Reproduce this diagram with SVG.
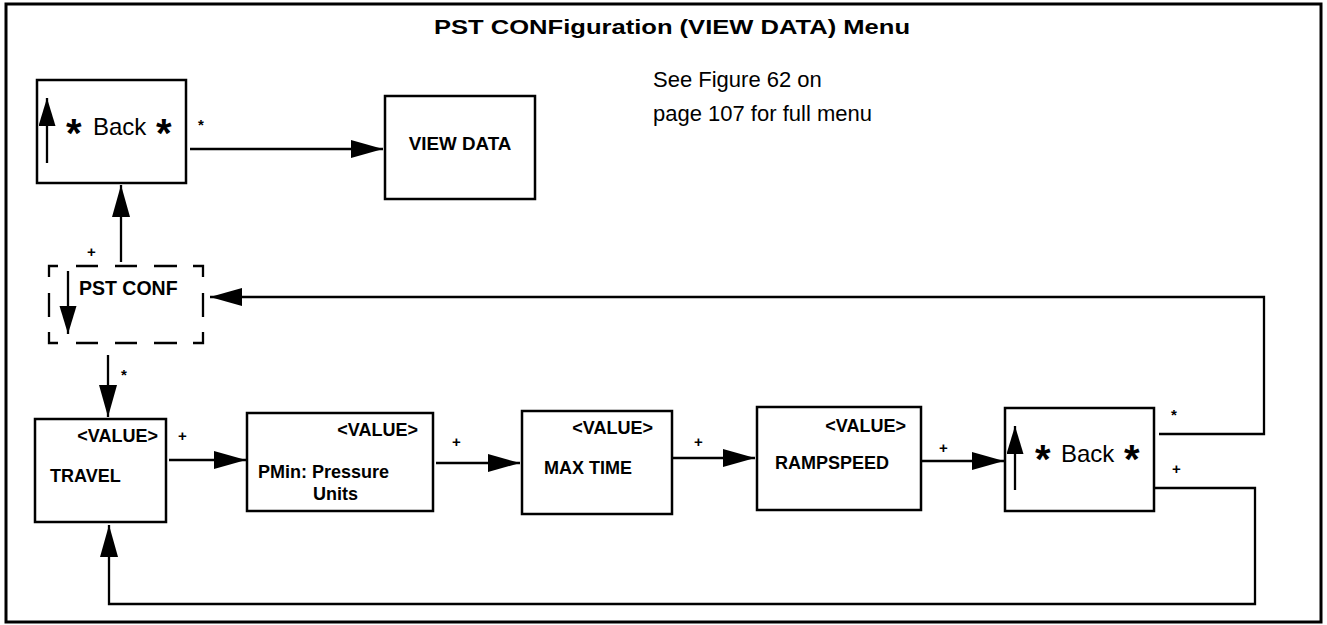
<svg xmlns="http://www.w3.org/2000/svg" width="1327" height="625" viewBox="0 0 1327 625">
<defs>
<style>
.box{fill:#fff;stroke:#000;stroke-width:2.5}
.ln{fill:none;stroke:#000;stroke-width:2.3}
.b{font-family:"Liberation Sans",Arial,sans-serif;font-weight:bold;font-size:18px;fill:#000}
.r{font-family:"Liberation Sans",Arial,sans-serif;font-size:22px;fill:#000}
.bk{font-family:"Liberation Sans",Arial,sans-serif;font-size:24px;fill:#000}
.st{font-family:"Liberation Sans",Arial,sans-serif;font-weight:bold;font-size:40px;fill:#000}
.lb{font-family:"Liberation Sans",Arial,sans-serif;font-weight:bold;font-size:15px;fill:#000}
</style>
<marker id="ah" markerUnits="userSpaceOnUse" markerWidth="32" markerHeight="18" refX="32" refY="9" orient="auto">
<path d="M0,0 L32,9 L0,18 z" fill="#000"/>
</marker>
<marker id="ahs" markerUnits="userSpaceOnUse" markerWidth="28" markerHeight="18" refX="28" refY="8.5" orient="auto">
<path d="M0,0 L28,8.5 L0,17 z" fill="#000"/>
</marker>
</defs>
<rect x="0" y="0" width="1327" height="625" fill="#fff"/>
<rect x="6" y="4" width="1315" height="618" fill="none" stroke="#000" stroke-width="3"/>
<text class="b" x="672" y="34" text-anchor="middle" style="font-size:21px" textLength="476" lengthAdjust="spacingAndGlyphs">PST CONFiguration (VIEW DATA) Menu</text>
<text class="r" x="653" y="87">See Figure 62 on</text>
<text class="r" x="653" y="121">page 107 for full menu</text>

<g id="back1">
<rect class="box" x="37" y="80" width="149" height="103"/>
<line class="ln" x1="47" y1="163" x2="47" y2="98" marker-end="url(#ahs)"/>
<text class="st" x="66" y="147">*</text>
<text class="bk" x="93" y="135">Back</text>
<text class="st" x="156" y="147">*</text>
</g>

<g id="viewdata">
<rect class="box" x="385" y="96" width="150" height="103"/>
<text class="b" x="460" y="150" text-anchor="middle" style="font-size:18.8px">VIEW DATA</text>
</g>

<g id="pstconf">
<path class="ln" d="M49,277 V266 H58 M76,266 H98 M115,266 H137 M154,266 H177 M193,266 H203 V277 M203,293 V317 M203,332 V343 H193 M177,343 H154 M137,343 H115 M98,343 H76 M58,343 H49 V332 M49,317 V293"/>
<line class="ln" x1="68" y1="271" x2="68" y2="334" marker-end="url(#ahs)"/>
<text class="b" x="79" y="295" style="font-size:19.5px">PST CONF</text>
</g>

<g id="travel">
<rect class="box" x="35" y="419" width="131" height="103"/>
<text class="b" x="158" y="442" text-anchor="end">&lt;VALUE&gt;</text>
<text class="b" x="50" y="482">TRAVEL</text>
</g>

<g id="pmin">
<rect class="box" x="247" y="413" width="186" height="98"/>
<text class="b" x="418" y="436" text-anchor="end">&lt;VALUE&gt;</text>
<text class="b" x="258" y="478">PMin: Pressure</text>
<text class="b" x="313" y="500">Units</text>
</g>

<g id="maxtime">
<rect class="box" x="522" y="411" width="150" height="103"/>
<text class="b" x="653" y="434" text-anchor="end">&lt;VALUE&gt;</text>
<text class="b" x="544" y="474">MAX TIME</text>
</g>

<g id="rampspeed">
<rect class="box" x="757" y="407" width="164" height="103"/>
<text class="b" x="906" y="432" text-anchor="end">&lt;VALUE&gt;</text>
<text class="b" x="775" y="469">RAMPSPEED</text>
</g>

<g id="back2">
<rect class="box" x="1005" y="408" width="149" height="103"/>
<line class="ln" x1="1015" y1="490" x2="1015" y2="426" marker-end="url(#ahs)"/>
<text class="st" x="1035" y="473">*</text>
<text class="bk" x="1061" y="462">Back</text>
<text class="st" x="1124" y="473">*</text>
</g>

<g id="connectors">
<line class="ln" x1="190" y1="149" x2="383" y2="149" marker-end="url(#ah)"/>
<line class="ln" x1="121" y1="262" x2="121" y2="185" marker-end="url(#ah)"/>
<line class="ln" x1="108" y1="355" x2="108" y2="417" marker-end="url(#ah)"/>
<line class="ln" x1="169" y1="460" x2="246" y2="460" marker-end="url(#ah)"/>
<line class="ln" x1="436" y1="463" x2="520" y2="463" marker-end="url(#ah)"/>
<line class="ln" x1="672" y1="458" x2="755" y2="458" marker-end="url(#ah)"/>
<line class="ln" x1="922" y1="461" x2="1004" y2="461" marker-end="url(#ah)"/>
<polyline class="ln" points="1159,434 1264,434 1264,297 210,297" marker-end="url(#ah)"/>
<polyline class="ln" points="1154,488 1255,488 1255,604 109,604 109,525" marker-end="url(#ah)"/>
<text class="lb" x="198" y="130">*</text>
<text class="lb" x="87" y="257">+</text>
<text class="lb" x="121" y="380">*</text>
<text class="lb" x="178" y="441">+</text>
<text class="lb" x="452" y="447">+</text>
<text class="lb" x="694" y="447">+</text>
<text class="lb" x="939" y="453">+</text>
<text class="lb" x="1171" y="420">*</text>
<text class="lb" x="1172" y="474">+</text>
</g>
</svg>
